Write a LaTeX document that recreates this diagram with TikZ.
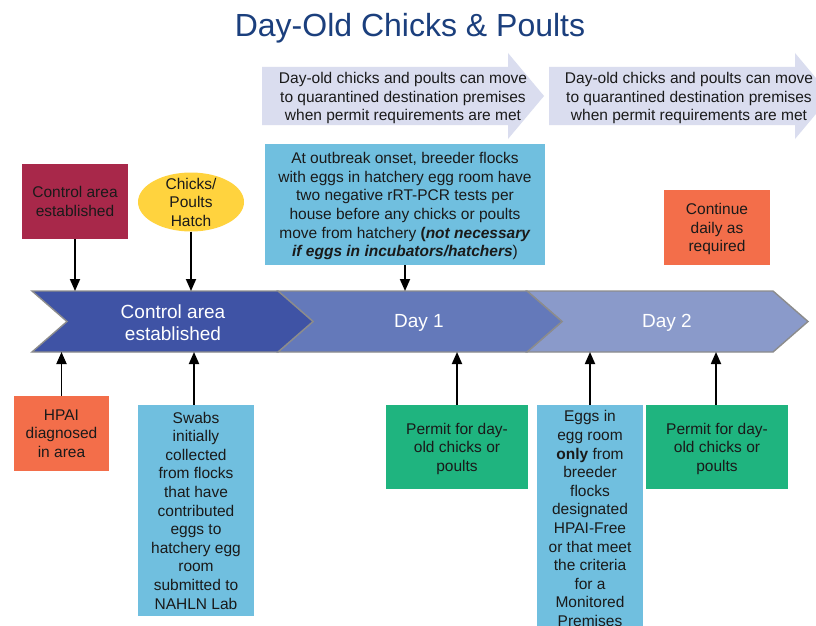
\documentclass[tikz,border=0pt]{standalone}
\usepackage{fontspec}
\setmainfont{Liberation Sans}
\usetikzlibrary{shapes.geometric,arrows.meta}
\definecolor{titlec}{HTML}{1B3F7D}
\definecolor{lav}{HTML}{DADDEF}
\definecolor{cyanb}{HTML}{70BFDF}
\definecolor{crimson}{HTML}{A8284A}
\definecolor{yell}{HTML}{FFD33E}
\definecolor{orng}{HTML}{F36E4A}
\definecolor{grn}{HTML}{1FB47F}
\definecolor{chevA}{HTML}{3F53A5}
\definecolor{chevB}{HTML}{6479BA}
\definecolor{chevC}{HTML}{8A9ACA}
\definecolor{outl}{HTML}{8C8C8C}
\definecolor{txtc}{HTML}{1A1A1A}
\begin{document}
\begin{tikzpicture}[x=1pt,y=-1pt,
  boxtxt/.style={font=\fontsize{15.5}{18.6}\selectfont, text=txtc, align=center, text depth=0pt},
  box/.style={boxtxt, inner sep=0pt},
  arr/.style={line width=1.8pt, -{Triangle[length=12pt,width=10pt]}},
  chev/.style={draw=outl, line width=1.4pt, line join=miter},
  tltext/.style={font=\fontsize{19}{22}\selectfont, text=white, align=center}]
\fill[white] (0,0) rectangle (816,626);
\useasboundingbox (0,0) rectangle (816,626);
\clip (0,0) rectangle (816,626);
% title
\node[font=\fontsize{32}{38}\selectfont, text=titlec] (title) at (410,28) {Day-Old Chicks \& Poults};
% top lavender arrows
\fill[lav] (262,67) -- (508,67) -- (508,53) -- (544,96) -- (508,139) -- (508,125) -- (262,125) -- cycle;
\fill[lav] (549,67) -- (795,67) -- (795,53) -- (831,96) -- (795,139) -- (795,125) -- (549,125) -- cycle;
\node[boxtxt] (move1) at (403,96.5) {Day-old chicks and poults can move\\to quarantined destination premises\\when permit requirements are met};
\node[boxtxt] (move2) at (689,96.5) {Day-old chicks and poults can move\\to quarantined destination premises\\when permit requirements are met};
% timeline
\coordinate (tltop) at (0,291);
\coordinate (tlbot) at (0,352);
\filldraw[chev, fill=chevC] (527,291) -- (773,291) -- (808,321.5) -- (773,352) -- (527,352) -- (562,321.5) -- cycle;
\filldraw[chev, fill=chevB] (278,291) -- (527,291) -- (562,321.5) -- (527,352) -- (278,352) -- (313,321.5) -- cycle;
\filldraw[chev, fill=chevA] (32,291) -- (278,291) -- (313,321.5) -- (278,352) -- (32,352) -- (67,321.5) -- cycle;
\node[tltext] (tl1) at (173,322.5) {Control area\\established};
\node[tltext] (tl2) at (419,323) {Day 1};
\node[tltext] (tl3) at (667,323) {Day 2};
% top boxes
\node[box, fill=crimson, minimum width=106pt, minimum height=75pt] (ca) at (75,201.5) {Control area\\established};
\node[ellipse, fill=yell, minimum width=106pt, minimum height=59pt, inner sep=0pt] (hatch) at (191,202) {};
\node[boxtxt] (hatchtxt) at (191,202) {Chicks/\\Poults\\Hatch};
\node[box, fill=cyanb, minimum width=280pt, minimum height=121pt] (onset) at (405,204.5) {At outbreak onset, breeder flocks\\with eggs in hatchery egg room have\\two negative rRT-PCR tests per\\house before any chicks or poults\\move from hatchery \textbf{(\textit{not necessary}}\\\textbf{\textit{if eggs in incubators/hatchers}})};
\node[box, fill=orng, minimum width=106pt, minimum height=75pt] (cont) at (717,227.5) {Continue\\daily as\\required};
% bottom boxes
\node[box, fill=orng, minimum width=95pt, minimum height=75pt] (hpai) at (61.5,433.5) {HPAI\\diagnosed\\in area};
\node[box, fill=cyanb, minimum width=116pt, minimum height=211pt] (swabs) at (196,510.5) {Swabs\\initially\\collected\\from flocks\\that have\\contributed\\eggs to\\hatchery egg\\room\\submitted to\\NAHLN Lab};
\node[box, fill=grn, minimum width=142pt, minimum height=84pt] (perm1) at (457,447) {Permit for day-\\old chicks or\\poults};
\node[box, fill=cyanb, minimum width=106pt, minimum height=255pt] (eggs) at (590,532.5) {};
\node[boxtxt, anchor=north, inner sep=0pt] (eggstxt) at (590,410.5) {Eggs in\\egg room\\\textbf{only} from\\breeder\\flocks\\designated\\HPAI-Free\\or that meet\\the criteria\\for a\\Monitored\\Premises};
\node[box, fill=grn, minimum width=142pt, minimum height=84pt] (perm2) at (717,447) {Permit for day-\\old chicks or\\poults};
% arrows down
\draw[arr] (ca.south) -- (ca.south |- tltop);
\draw[arr] (hatch.south) -- (hatch.south |- tltop);
\draw[arr] (onset.south) -- (onset.south |- tltop);
% arrows up
\draw[arr] (hpai.north) -- (hpai.north |- tlbot);
\draw[arr] ([xshift=-2pt]swabs.north) -- ([xshift=-2pt]swabs.north |- tlbot);
\draw[arr] (perm1.north) -- (perm1.north |- tlbot);
\draw[arr] (eggs.north) -- (eggs.north |- tlbot);
\draw[arr] ([xshift=-1pt]perm2.north) -- ([xshift=-1pt]perm2.north |- tlbot);
\end{tikzpicture}
\end{document}
